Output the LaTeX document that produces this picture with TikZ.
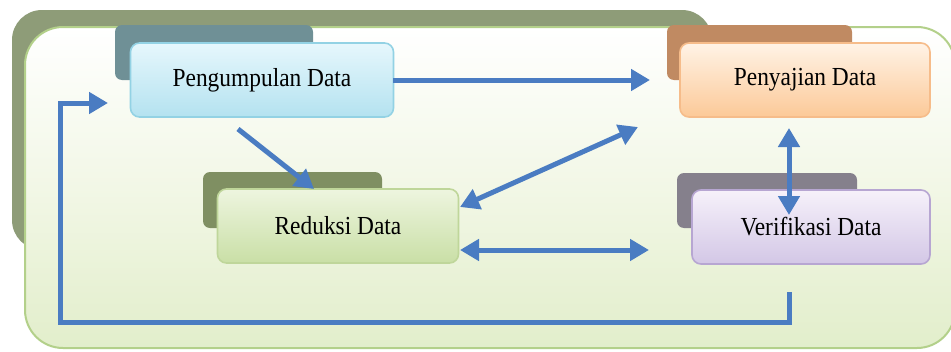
\documentclass[tikz,border=0pt]{standalone}
\usepackage{fontspec}
\setmainfont{Liberation Serif}
\usetikzlibrary{arrows.meta,shadings}
\definecolor{flow}{HTML}{4A7CC2}
\definecolor{panelborder}{HTML}{B3D08A}
\definecolor{panelshadow}{HTML}{8E9C78}
\definecolor{panelbottom}{HTML}{E2EECB}
\definecolor{panelmid}{HTML}{F2F7E6}
\definecolor{shblue}{HTML}{6F9096}
\definecolor{shorange}{HTML}{C08A62}
\definecolor{shgreen}{HTML}{7F8F62}
\definecolor{shpurple}{HTML}{85808C}
\definecolor{bdblue}{HTML}{93D2E4}
\definecolor{tpblue}{HTML}{E6F7FC}
\definecolor{btblue}{HTML}{B4E2F0}
\definecolor{bdorange}{HTML}{F6BC8A}
\definecolor{tporange}{HTML}{FFF3E6}
\definecolor{btorange}{HTML}{FCC998}
\definecolor{bdgreen}{HTML}{BFD69A}
\definecolor{tpgreen}{HTML}{EEF5DF}
\definecolor{btgreen}{HTML}{C9DFA6}
\definecolor{bdpurple}{HTML}{B7A6D2}
\definecolor{tppurple}{HTML}{F6F1FA}
\definecolor{btpurple}{HTML}{D3C7E6}
\newcommand{\cardtext}[1]{\scalebox{0.9}[1]{#1}}
\tikzset{
  card/.style={rounded corners=9pt, line width=1.6pt, minimum width=#1, minimum height=74pt, font=\fontsize{26}{30}\selectfont, inner sep=0pt},
  cardshadow/.style={rounded corners=7pt},
  flowline/.style={line width=5pt, draw=flow, -{Triangle[length=19pt,width=21pt]}},
  flowboth/.style={line width=5pt, draw=flow, {Triangle[length=19pt,width=21pt]}-{Triangle[length=19pt,width=21pt]}},
}
\begin{document}
\begin{tikzpicture}[x=1pt,y=-1pt]
\useasboundingbox (0,0) rectangle (951,351);
\fill[white] (0,0) rectangle (951,351);
% panel shadow
\fill[panelshadow, rounded corners=30pt] (12,10) rectangle (712,250);
% main panel
\shade[top color=white, bottom color=panelbottom, middle color=panelmid, rounded corners=38pt, draw=panelborder, line width=2pt] (25,27) rectangle (955,348);
% card shadows
\fill[cardshadow, fill=shblue] (115,25) rectangle (313,80);
\fill[cardshadow, fill=shorange] (667,25) rectangle (852,80);
\fill[cardshadow, fill=shgreen] (203,172) rectangle (382,228);
\fill[cardshadow, fill=shpurple] (677,173) rectangle (857,228);
% cards
\node[card=263pt, draw=bdblue, top color=tpblue, bottom color=btblue] (peng) at (262,80) {\cardtext{Pengumpulan Data}};
\node[card=250pt, draw=bdorange, top color=tporange, bottom color=btorange] (peny) at (805,80) {\cardtext{Penyajian Data}};
\node[card=241pt, draw=bdgreen, top color=tpgreen, bottom color=btgreen] (red) at (338,226) {\cardtext{Reduksi Data}};
\node[card=238pt, draw=bdpurple, top color=tppurple, bottom color=btpurple] (ver) at (811,227) {\cardtext{Verifikasi Data}};
% connectors
\coordinate (pengR) at (393,80);
\coordinate (penyIn) at (650,80);
\draw[flowline] (pengR) -- (penyIn);
\coordinate (pengOut) at (238,129);
\coordinate (redIn) at (314,189);
\draw[flowline] (pengOut) -- (redIn);
\coordinate (redA) at (460,207);
\coordinate (penyA) at (638,127);
\draw[flowboth] (redA) -- (penyA);
\coordinate (redB) at (460,250);
\coordinate (verB) at (649,250);
\draw[flowboth] (redB) -- (verB);
\coordinate (penyV) at (789,128);
\coordinate (verV) at (789,215);
\draw[flowboth] (penyV) -- (verV);
\coordinate (verOut) at (789,292);
\coordinate (pengIn) at (108,103);
\draw[flowline, line join=miter] (verOut) -- (789,322) -- (60,322) -- (60,103) -- (pengIn);
\end{tikzpicture}
\end{document}
